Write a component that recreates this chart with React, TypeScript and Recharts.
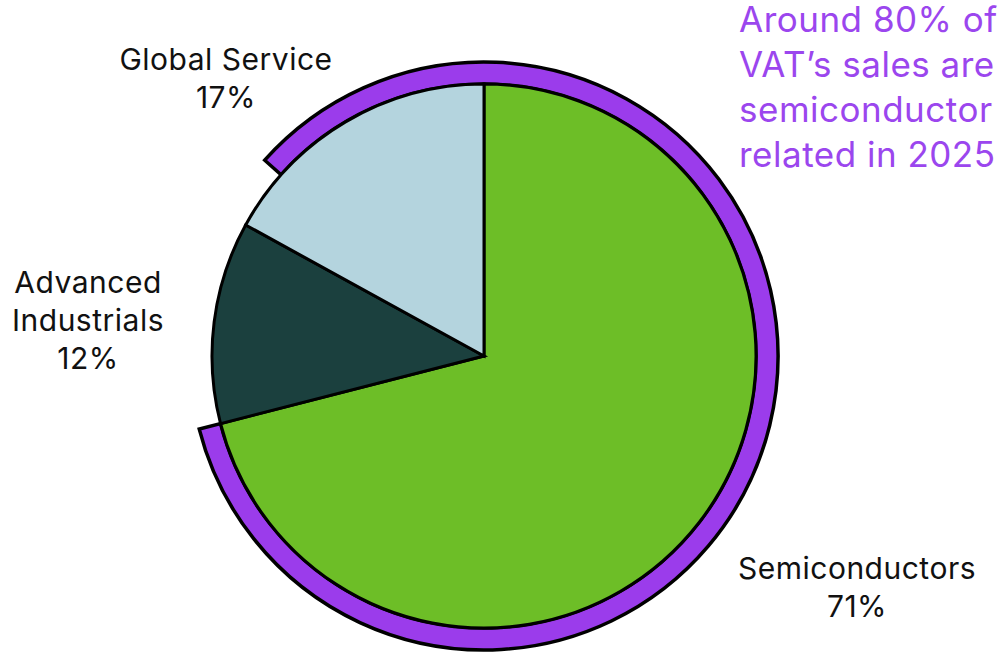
import React from 'react';
import { PieChart, Pie, Cell } from 'recharts';

const segments = ['Semiconductors', 'Advanced Industrials', 'Global Service'];
const shares = [71, 12, 17];
const segmentColors = ['#6DBE27', '#1B403E', '#B4D4DE'];
const labelLines = [['Semiconductors', '71%'], ['Advanced', 'Industrials', '12%'], ['Global Service', '17%']];
// label anchor offsets from pie centre (layout only)
const labelOffsets = [[373, 231], [-396, -36], [-258, -278]];

const ringNames = ['Semiconductor related', 'Other'];
const ringShares = [84.4, 15.6];
const ringColors = ['#9B3CEB', 'transparent'];

const noteLines = ['Around 80% of', 'VAT\u2019s sales are', 'semiconductor', 'related in 2025'];

const mainData = segments.map((name, i) => ({ name, value: shares[i] }));
const ringData = ringNames.map((name, i) => ({ name, value: ringShares[i] }));

const FONT = 'Inter, "Liberation Sans", Arial, sans-serif';
const semisEnd = 90 - (shares[0] / 100) * 360;

const renderLabel = (props: any) => {
  const { cx, cy, index } = props;
  const [dx, dy] = labelOffsets[index];
  const lines = labelLines[index];
  const lh = 38;
  const x = cx + dx;
  const y0 = cy + dy - ((lines.length - 1) * lh) / 2;
  return (
    <text x={x} y={y0} textAnchor="middle" fill="#111" fontSize={30} letterSpacing={0.5} fontFamily={FONT} dominantBaseline="central">
      {lines.map((l, i) => (
        <tspan key={i} x={x} y={y0 + i * lh}>{l}</tspan>
      ))}
    </text>
  );
};

export default function App() {
  return (
    <div style={{ position: 'absolute', left: 0, top: 0, width: 1004, height: 653, background: '#fff' }}>
      <PieChart width={1004} height={653} margin={{ top: 0, right: 0, bottom: 0, left: 0 }}>
        <Pie
          data={ringData}
          dataKey="value"
          cx={484}
          cy={356}
          innerRadius={272}
          outerRadius={294}
          startAngle={semisEnd}
          endAngle={semisEnd + 360}
          isAnimationActive={false}
          label={false}
          labelLine={false}
        >
          {ringData.map((d, i) => (
            <Cell key={i} fill={ringColors[i]} stroke={i === 0 ? '#000' : 'none'} strokeWidth={3.5} />
          ))}
        </Pie>
        <Pie
          data={mainData}
          dataKey="value"
          cx={484}
          cy={356}
          innerRadius={0}
          outerRadius={272}
          startAngle={90}
          endAngle={-270}
          isAnimationActive={false}
          label={renderLabel}
          labelLine={false}
        >
          {mainData.map((d, i) => (
            <Cell key={i} fill={segmentColors[i]} stroke="#000" strokeWidth={3} />
          ))}
        </Pie>
      </PieChart>
      <div style={{ position: 'absolute', left: 739, top: -3, fontFamily: FONT, fontSize: 35, letterSpacing: 0.5, lineHeight: '45px', color: '#9B46EE', whiteSpace: 'nowrap' }}>
        {noteLines.map((l, i) => (
          <div key={i}>{l}</div>
        ))}
      </div>
    </div>
  );
}
